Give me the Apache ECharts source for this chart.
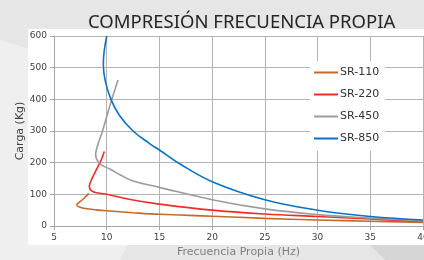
<!DOCTYPE html>
<html>
<head>
<meta charset="utf-8">
<script src="https://cdn.jsdelivr.net/npm/echarts@6/dist/echarts.min.js"></script>
<style>
html, body { margin: 0; padding: 0; }
#chart { width: 424px; height: 260px; }
</style>
</head>
<body>
<div id="chart"></div>
<script>
// frecuencia (Hz), carga (Kg)
var sr110 = [[8.3,103],[7.8,86],[7.35,74],[7.15,67],[7.4,60],[8,55],[9,51],[10,48],[12.5,42],[15,37],[20,31],[25,24],[30,19],[35,15],[40,11]];
var sr220 = [[9.77,235],[9.5,210],[9.2,190],[8.8,163],[8.45,138],[8.35,124],[8.6,110],[9.2,104],[10,100],[12.5,82],[15,69],[20,50],[25,38],[30,30],[35,22],[40,14]];
var sr450 = [[11.07,461],[10.3,380],[9.6,300],[9.1,250],[8.95,225],[9.1,208],[9.5,193],[10.3,180],[11.3,161],[12.5,142],[15,122],[20,83],[25,54],[30,36],[35,25],[40,16]];
var sr850 = [[10,600],[9.75,550],[9.68,510],[9.85,460],[10.4,400],[11.2,350],[12.5,300],[14,262],[15,240],[17,195],[20,140],[25,83],[30,50],[35,30],[40,19]];
var seriesNames = ['SR-110', 'SR-220', 'SR-450', 'SR-850'];
var seriesColors = ['#C8682A', '#F42A2A', '#9C9C9C', '#0B72C4'];

var chart = echarts.init(document.getElementById('chart'));

function mkSeries(i, data) {
    return {
        name: seriesNames[i],
        type: 'line',
        data: data,
        smooth: 0.4,
        symbol: 'none',
        lineStyle: { color: seriesColors[i], width: 1.6 },
        itemStyle: { color: seriesColors[i] }
    };
}

var option = {
    backgroundColor: '#e6e6e6',
    animation: false,
    graphic: [
        { type: 'polygon', z: -10, shape: { points: [[0,40],[200,100],[120,260],[0,260]] }, style: { fill: '#efefef' } },
        { type: 'polygon', z: -10, shape: { points: [[370,245],[424,245],[424,260],[385,260]] }, style: { fill: '#d6d6d6' } },
        { type: 'rect', z: -5, shape: { x: 28, y: 29, width: 396, height: 216 }, style: { fill: '#ffffff' } }
    ],
    title: {
        text: 'COMPRESIÓN FRECUENCIA PROPIA',
        left: 83,
        top: 8,
        textStyle: { fontFamily: 'Noto Sans', fontWeight: 'normal', fontSize: 18.5, color: '#262626' }
    },
    grid: { left: 54, right: 1, top: 36, bottom: 34, outerBoundsMode: 'none' },
    legend: {
        orient: 'vertical',
        left: 310,
        top: 61,
        icon: 'rect',
        itemWidth: 24,
        itemHeight: 2,
        itemGap: 9,
        backgroundColor: '#ffffff',
        padding: [5, 6, 6, 4],
        data: seriesNames,
        textStyle: { fontFamily: 'DejaVu Sans', fontSize: 11, color: '#333333', padding: [0, 0, 0, -3], lineHeight: 13 }
    },
    xAxis: {
        type: 'value',
        min: 5,
        max: 40,
        interval: 5,
        name: 'Frecuencia Propia (Hz)',
        nameLocation: 'middle',
        nameGap: 21,
        nameMoveOverlap: false,
        nameTextStyle: { fontFamily: 'DejaVu Sans', fontSize: 11, color: '#7f7f7f' },
        axisLine: { lineStyle: { color: '#a6a6a6' } },
        axisTick: { show: true, length: 4, lineStyle: { color: '#a6a6a6' } },
        axisLabel: { fontFamily: 'DejaVu Sans', fontSize: 9, color: '#404040', margin: 7 },
        splitLine: { show: true, lineStyle: { color: '#b3b3b3', width: 1 } }
    },
    yAxis: {
        type: 'value',
        min: 0,
        max: 600,
        interval: 100,
        name: 'Carga (Kg)',
        nameLocation: 'middle',
        nameGap: 28,
        nameMoveOverlap: false,
        nameTextStyle: { fontFamily: 'DejaVu Sans', fontSize: 11, color: '#404040' },
        axisLine: { show: true, lineStyle: { color: '#a6a6a6' } },
        axisTick: { show: true, length: 4, lineStyle: { color: '#a6a6a6' } },
        axisLabel: { fontFamily: 'DejaVu Sans', fontSize: 9, color: '#404040', margin: 7 },
        splitLine: { show: true, lineStyle: { color: '#b3b3b3', width: 1 } }
    },
    series: [
        mkSeries(0, sr110),
        mkSeries(1, sr220),
        mkSeries(2, sr450),
        mkSeries(3, sr850)
    ]
};

chart.setOption(option);
</script>
</body>
</html>
